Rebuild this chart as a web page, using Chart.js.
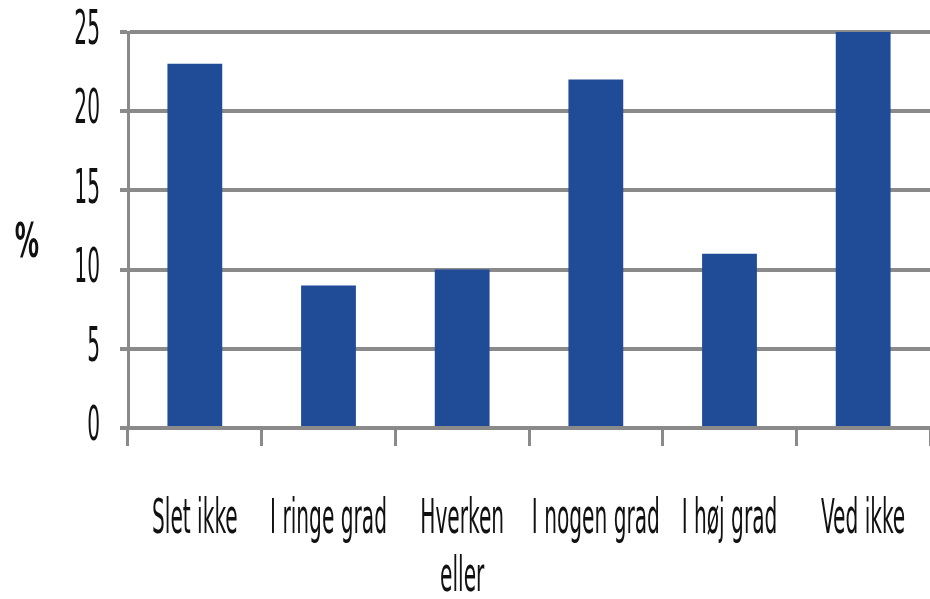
<!DOCTYPE html>
<html>
<head>
<meta charset="utf-8">
<script src="https://cdn.jsdelivr.net/npm/chart.js@4.4.1/dist/chart.umd.min.js"></script>
<style>
  html, body { margin: 0; padding: 0; background: #fff; }
  #wrap { width: 930px; height: 599px; }
</style>
</head>
<body>
<div id="wrap"><canvas id="chart" width="930" height="599"></canvas></div>
<script>
// chart data
const categories = ['Slet ikke', 'I ringe grad', ['Hverken', 'eller'], 'I nogen grad', 'I høj grad', 'Ved ikke'];
const percentValues = [23, 9, 10, 22, 11, 25];
const yTicks = [0, 5, 10, 15, 20, 25];
const yAxisTitle = '%';

const FONT = '27px "Liberation Sans Narrow", "DejaVu Sans Condensed", sans-serif';
const SX = 0.83;
const SY = 1.75;
const GRID = '#8a8a8a';

// draws the condensed, vertically stretched labels at the scale positions
const stretchedLabels = {
  id: 'stretchedLabels',
  afterDraw(chart) {
    const ctx = chart.ctx;
    const xs = chart.scales.x;
    const ys = chart.scales.y;
    ctx.save();
    ctx.fillStyle = '#111';
    ctx.font = FONT;

    // y ticks
    ctx.textAlign = 'right';
    ctx.textBaseline = 'middle';
    ys.ticks.forEach(t => {
      ctx.save();
      ctx.translate(100, ys.getPixelForValue(t.value));
      ctx.scale(SX, SY);
      ctx.fillText(String(t.value), 0, 0);
      ctx.restore();
    });

    // x labels
    ctx.textAlign = 'center';
    ctx.textBaseline = 'alphabetic';
    categories.forEach((label, i) => {
      const lines = Array.isArray(label) ? label : [label];
      ctx.save();
      ctx.translate(xs.getPixelForValue(i), 533);
      ctx.scale(SX, SY);
      lines.forEach((ln, j) => ctx.fillText(ln, 0, j * 33));
      ctx.restore();
    });

    // axis title
    ctx.textBaseline = 'middle';
    ctx.save();
    ctx.translate(27, 245);
    ctx.scale(1, SY);
    ctx.font = 'bold ' + FONT;
    ctx.fillText(yAxisTitle, 0, 0);
    ctx.restore();

    ctx.restore();
  }
};

new Chart(document.getElementById('chart'), {
  type: 'bar',
  data: {
    labels: categories,
    datasets: [{
      data: percentValues,
      backgroundColor: '#1F4B97',
      categoryPercentage: 1,
      barPercentage: 0.41
    }]
  },
  options: {
    responsive: false,
    animation: false,
    layout: { padding: { top: 32, right: 0, left: 0, bottom: 0 } },
    plugins: { legend: { display: false }, tooltip: { enabled: false } },
    scales: {
      x: {
        afterFit: s => { s.height = 171; },
        ticks: { display: false },
        grid: { display: true, drawOnChartArea: false, drawTicks: true, tickLength: 18, color: GRID, lineWidth: 3, offset: true },
        border: { display: true, color: GRID, width: 4 }
      },
      y: {
        min: 0,
        max: 25,
        afterFit: s => { s.width = 128; },
        afterBuildTicks: s => { s.ticks = yTicks.map(v => ({ value: v })); },
        ticks: { display: false },
        grid: { color: GRID, lineWidth: 4, drawTicks: true, tickLength: 8 },
        border: { display: true, color: GRID, width: 3 }
      }
    }
  },
  plugins: [stretchedLabels]
});
</script>
</body>
</html>
